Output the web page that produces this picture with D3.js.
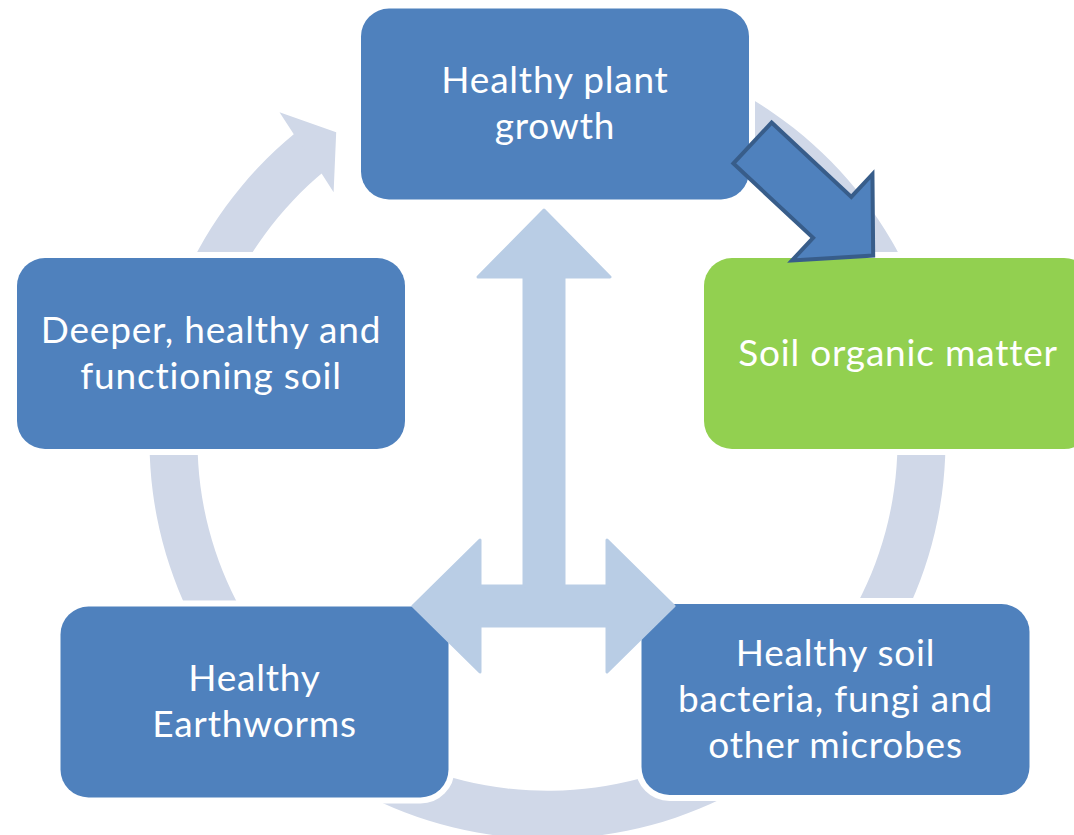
<!DOCTYPE html>
<html>
<head>
<meta charset="utf-8">
<script src="https://cdn.jsdelivr.net/npm/d3@7"></script>
<style>
  body { margin: 0; background: #fff; }
  .label { font-family: Lato, "Open Sans", sans-serif; fill: #fff; }
</style>
</head>
<body>
<div class="chart"></div>
<script>
// Cycle steps, clockwise from the top
var stepLabels = [
  ["Healthy plant", "growth"],
  ["Soil organic matter"],
  ["Healthy soil", "bacteria, fungi and", "other microbes"],
  ["Healthy", "Earthworms"],
  ["Deeper, healthy and", "functioning soil"]
];
var stepKinds = ["step", "highlight", "step", "step", "step"];

// Set up the drawing
var svgWidth = 1074;
var svgHeight = 835;

var svg = d3.select(".chart")
  .append("svg")
  .attr("width", svgWidth)
  .attr("height", svgHeight);

var fillColor = d3.scaleOrdinal()
  .domain(["step", "highlight"])
  .range(["#4F81BD", "#92D050"]);

// Layout of the diagram
var ring = { cx: 547.5, cy: 440.8, inner: 350, outer: 398 };
var boxW = 388, boxH = 191, boxR = 28;
var boxCenters = [[555, 104], [898, 353.5], [835.5, 699.5], [254.5, 702], [211, 353.5]];
var lineGap = 46;
var fontSize = 37;

var rad = Math.PI / 180;
function polar(r, deg) {
  return [ring.cx + r * Math.sin(deg * rad), ring.cy - r * Math.cos(deg * rad)];
}

// Background cycle ring, open where the arrow meets the top box
var ringG = svg.append("g").attr("fill", "#D0D8E8");

ringG.append("path")
  .attr("transform", "translate(" + ring.cx + "," + ring.cy + ")")
  .attr("d", d3.arc()
    .innerRadius(ring.inner)
    .outerRadius(ring.outer)
    .startAngle(-27 * rad)
    .endAngle(320.5 * rad)());

// arrowhead on the ring pointing at the top box
var headPts = [
  polar(ring.inner, -40.2),
  polar(328, -40.7),
  polar(374, -34.4),
  polar(424, -39.2),
  polar(ring.outer, -39.6)
];
ringG.append("path").attr("d", d3.line()(headPts) + "Z");

// Step boxes
var nodes = svg.append("g")
  .selectAll("g")
  .data(stepLabels)
  .enter()
  .append("g")
  .attr("transform", function(d, i) {
    return "translate(" + boxCenters[i][0] + "," + boxCenters[i][1] + ")";
  });

nodes.append("rect")
  .attr("x", -boxW / 2)
  .attr("y", -boxH / 2)
  .attr("width", boxW)
  .attr("height", boxH)
  .attr("rx", boxR)
  .attr("fill", function(d, i) { return fillColor(stepKinds[i]); })
  .attr("stroke", "#fff")
  .attr("stroke-width", 12)
  .style("paint-order", "stroke");

// Central three-way arrow
var tri = {
  x: 544, tipY: 210, headLen: 67, headHalf: 66, shaftHalf: 20,
  barY: 606, leftTip: 413, rightTip: 674
};
var hb = tri.tipY + tri.headLen;
var lb = tri.leftTip + tri.headLen;
var rb = tri.rightTip - tri.headLen;
var triPts = [
  [tri.x, tri.tipY],
  [tri.x + tri.headHalf, hb],
  [tri.x + tri.shaftHalf, hb],
  [tri.x + tri.shaftHalf, tri.barY - tri.shaftHalf],
  [rb, tri.barY - tri.shaftHalf],
  [rb, tri.barY - tri.headHalf],
  [tri.rightTip, tri.barY],
  [rb, tri.barY + tri.headHalf],
  [rb, tri.barY + tri.shaftHalf],
  [lb, tri.barY + tri.shaftHalf],
  [lb, tri.barY + tri.headHalf],
  [tri.leftTip, tri.barY],
  [lb, tri.barY - tri.headHalf],
  [lb, tri.barY - tri.shaftHalf],
  [tri.x - tri.shaftHalf, tri.barY - tri.shaftHalf],
  [tri.x - tri.shaftHalf, hb],
  [tri.x - tri.headHalf, hb]
];
svg.append("path")
  .attr("d", d3.line()(triPts) + "Z")
  .attr("fill", "#B9CDE5")
  .attr("stroke", "#B9CDE5")
  .attr("stroke-width", 3)
  .attr("stroke-linejoin", "round");

// Dark arrow from plant growth to soil organic matter
var dark = { x: 752.5, y: 143, angle: 43, shaftLen: 109, shaftHalf: 28, headHalf: 59, tipLen: 165 };
var darkPts = [
  [0, -dark.shaftHalf],
  [dark.shaftLen, -dark.shaftHalf],
  [dark.shaftLen, -dark.headHalf],
  [dark.tipLen, 0],
  [dark.shaftLen, dark.headHalf],
  [dark.shaftLen, dark.shaftHalf],
  [0, dark.shaftHalf]
];
svg.append("path")
  .attr("transform", "translate(" + dark.x + "," + dark.y + ") rotate(" + dark.angle + ")")
  .attr("d", d3.line()(darkPts) + "Z")
  .attr("fill", "#4F81BD")
  .attr("stroke", "#385D8A")
  .attr("stroke-width", 4)
  .attr("stroke-linejoin", "miter");

// Labels
nodes.append("text")
  .attr("class", "label")
  .attr("text-anchor", "middle")
  .style("font-size", fontSize + "px")
  .style("letter-spacing", "0.8px")
  .selectAll("tspan")
  .data(function(d) { return d.map(function(t, j) { return { t: t, j: j, n: d.length }; }); })
  .enter()
  .append("tspan")
  .attr("x", 0)
  .attr("y", function(d) { return 12 + (d.j - (d.n - 1) / 2) * lineGap; })
  .text(function(d) { return d.t; });
</script>
</body>
</html>
